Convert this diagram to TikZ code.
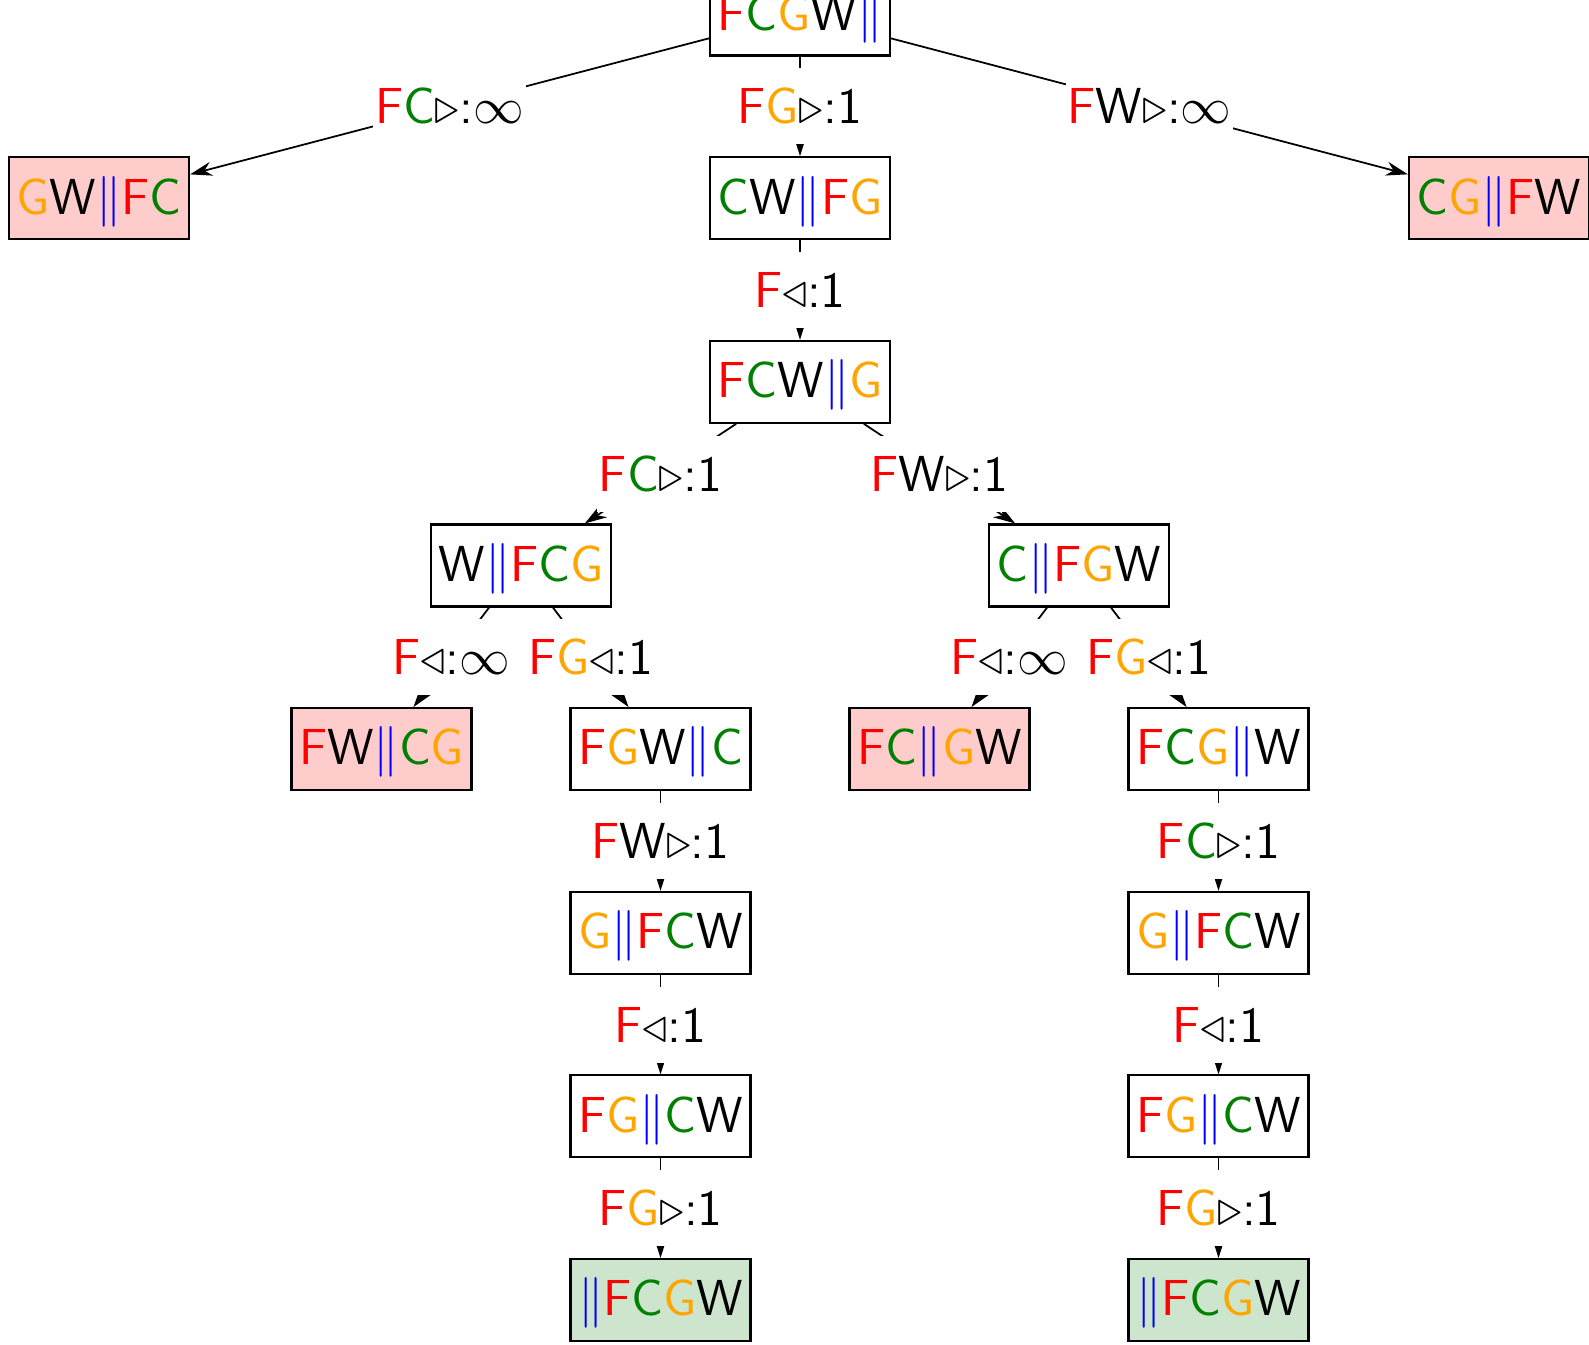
\documentclass[tikz,border=0pt]{standalone}
\usepackage{xcolor}
\usepackage{tikz}
\usetikzlibrary{arrows.meta}
\colorlet{cGreen}{green!50!black}
\definecolor{cOrange}{RGB}{255,165,0}
\newcommand{\cF}{\textcolor{red}{F}}
\newcommand{\cC}{\textcolor{cGreen}{C}}
\newcommand{\cG}{\textcolor{cOrange}{G}}
\newcommand{\cW}{\textcolor{black}{W}}
\newcommand{\cBank}{\textcolor{blue}{$\|$}}
\newcommand{\goR}{$\triangleright$}
\newcommand{\goL}{$\triangleleft$}

\begin{document}
\begin{tikzpicture}[
  x=1cm, y=1cm,
  font=\sffamily\fontsize{14.4}{17}\selectfont,
  state/.style={draw, line width=0.6pt, fill=white, minimum width=1.80cm,
                minimum height=0.82cm, inner sep=0.5pt, text height=10.8pt,
                text depth=1.8pt},
  lost/.style={state, fill=red!20},
  won/.style={state, fill=cGreen!20},
  move/.style={fill=white, inner xsep=0.5pt, inner ysep=0pt,
               minimum height=0.76cm},
  flow/.style={-{Stealth[length=2.2mm,width=1.4mm]}, line width=0.5pt},
]

% =========================================================================
% Geometry: eight levels 1.836cm apart, root centred at x = 8; the page is
% 15.89 x 13.44 and cuts the top of the root box.
% =========================================================================
\useasboundingbox (0,0) rectangle (15.89,-13.44);
\def\Ya{-0.145} \def\Yb{-1.982} \def\Yc{-3.818} \def\Yd{-5.655}
\def\Ye{-7.491} \def\Yf{-9.328} \def\Yg{-11.164} \def\Yh{-13.001}

% ---- top: everyone on the start bank ------------------------------------
\node[state] (s0) at (8.00,\Ya) {\cF\cC\cG\cW\cBank};
\node[lost]  (s1l) at (0.99,\Yb)  {\cG\cW\cBank\cF\cC};
\node[state] (s1)  at (8.00,\Yb)  {\cC\cW\cBank\cF\cG};
\node[lost]  (s1r) at (14.99,\Yb) {\cC\cG\cBank\cF\cW};
\node[state] (s2)  at (8.00,\Yc)  {\cF\cC\cW\cBank\cG};

\draw[flow] (s0) -- node[move] {\cF\cC\goR:$\infty$} (s1l);
\draw[flow] (s0) -- node[move] {\cF\cG\goR:1} (s1);
\draw[flow] (s0) -- node[move] {\cF\cW\goR:$\infty$} (s1r);
\draw[flow] (s1) -- node[move] {\cF\goL:1} (s2);

% ---- the split: cabbage or wolf crosses next ----------------------------
\node[state] (s3l) at (5.21,\Yd)  {\cW\cBank\cF\cC\cG};
\node[state] (s3r) at (10.79,\Yd) {\cC\cBank\cF\cG\cW};

\draw[flow] (s2) -- node[move] {\cF\cC\goR:1} (s3l);
\draw[flow] (s2) -- node[move] {\cF\cW\goR:1} (s3r);

\node[lost]  (s4a) at (3.815,\Ye)  {\cF\cW\cBank\cC\cG};
\node[state] (s4b) at (6.605,\Ye)  {\cF\cG\cW\cBank\cC};
\node[lost]  (s4c) at (9.395,\Ye)  {\cF\cC\cBank\cG\cW};
\node[state] (s4d) at (12.185,\Ye) {\cF\cC\cG\cBank\cW};

\draw[flow] (s3l) -- node[move] {\cF\goL:$\infty$} (s4a);
\draw[flow] (s3l) -- node[move] {\cF\cG\goL:1} (s4b);
\draw[flow] (s3r) -- node[move] {\cF\goL:$\infty$} (s4c);
\draw[flow] (s3r) -- node[move] {\cF\cG\goL:1} (s4d);

% ---- the two tails down to the goal -------------------------------------
\foreach \k/\x in {b/6.605, d/12.185}{
  \node[state] (s5\k) at (\x,\Yf) {\cG\cBank\cF\cC\cW};
  \node[state] (s6\k) at (\x,\Yg) {\cF\cG\cBank\cC\cW};
  \node[won]   (s7\k) at (\x,\Yh) {\cBank\cF\cC\cG\cW};
  \draw[flow] (s5\k) -- node[move] {\cF\goL:1} (s6\k);
  \draw[flow] (s6\k) -- node[move] {\cF\cG\goR:1} (s7\k);
}
\draw[flow] (s4b) -- node[move] {\cF\cW\goR:1} (s5b);
\draw[flow] (s4d) -- node[move] {\cF\cC\goR:1} (s5d);

\end{tikzpicture}
\end{document}
